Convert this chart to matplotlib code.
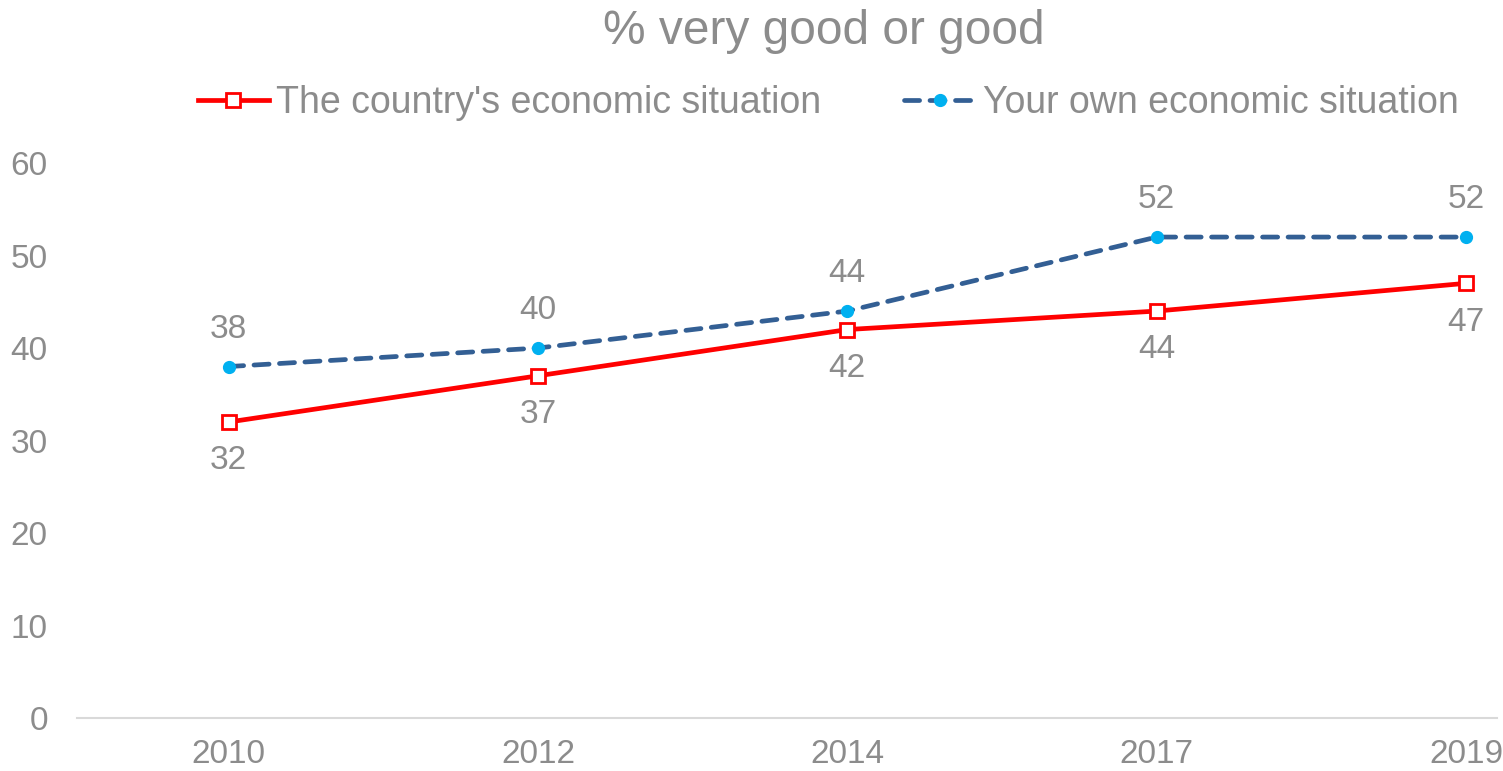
import matplotlib.pyplot as plt
from matplotlib.lines import Line2D

plt.rcParams['font.family'] = ['Liberation Sans', 'DejaVu Sans']

years = ["2010", "2012", "2014", "2017", "2019"]
country = [32, 37, 42, 44, 47]
own = [38, 40, 44, 52, 52]

grey = "#8c8c8c"
red = "#ff0000"
navy = "#335f94"
cyan = "#00b0f0"

fig = plt.figure(figsize=(15.03, 7.71), dpi=100)
ax = fig.add_axes([0.0512, 0.0687, 0.9448, 0.7198])

red_style = dict(color=red, lw=3.4, marker="s", markersize=10.5,
                 markerfacecolor="white", markeredgecolor=red, markeredgewidth=2)
blue_style = dict(color=navy, lw=3.4, ls=(0, (3.2, 2.2)), dash_capstyle="round",
                  marker="o", markersize=8.5, markerfacecolor=cyan, markeredgecolor=cyan)

x = list(range(len(years)))
ax.plot(x, country, zorder=3, **red_style)
ax.plot(x, own, zorder=3, **blue_style)

for i in x:
    ax.annotate(f"{own[i]}", (i, own[i]), xytext=(0, 27), textcoords="offset points",
                ha="center", va="center", fontsize=24, color=grey)
    ax.annotate(f"{country[i]}", (i, country[i]), xytext=(0, -28), textcoords="offset points",
                ha="center", va="center", fontsize=24, color=grey)

ax.set_xlim(-0.49, 4.1)
ax.set_ylim(0, 60)
ax.set_xticks(x)
ax.set_xticklabels(years)
ax.set_yticks(range(0, 61, 10))
ax.tick_params(axis="both", length=0, labelsize=24, colors=grey)
ax.tick_params(axis="y", pad=21)
ax.tick_params(axis="x", pad=15)
for side in ["top", "right", "left"]:
    ax.spines[side].set_visible(False)
ax.spines["bottom"].set_color("#d9d9d9")
ax.spines["bottom"].set_linewidth(1.5)

fig.text(0.548, 1 - 31 / 771, "% very good or good", ha="center", va="center",
         fontsize=34.5, color=grey)

handles = [Line2D([], [], **red_style), Line2D([], [], **blue_style)]
fig.legend(handles, ["The country's economic situation", "Your own economic situation"],
           loc="center", bbox_to_anchor=(0.551, 1 - 103 / 771), ncol=2, frameon=False,
           fontsize=27, labelcolor=grey, handlelength=1.9, handletextpad=0.2,
           columnspacing=2.2)

fig.savefig("out.png", dpi=100)
